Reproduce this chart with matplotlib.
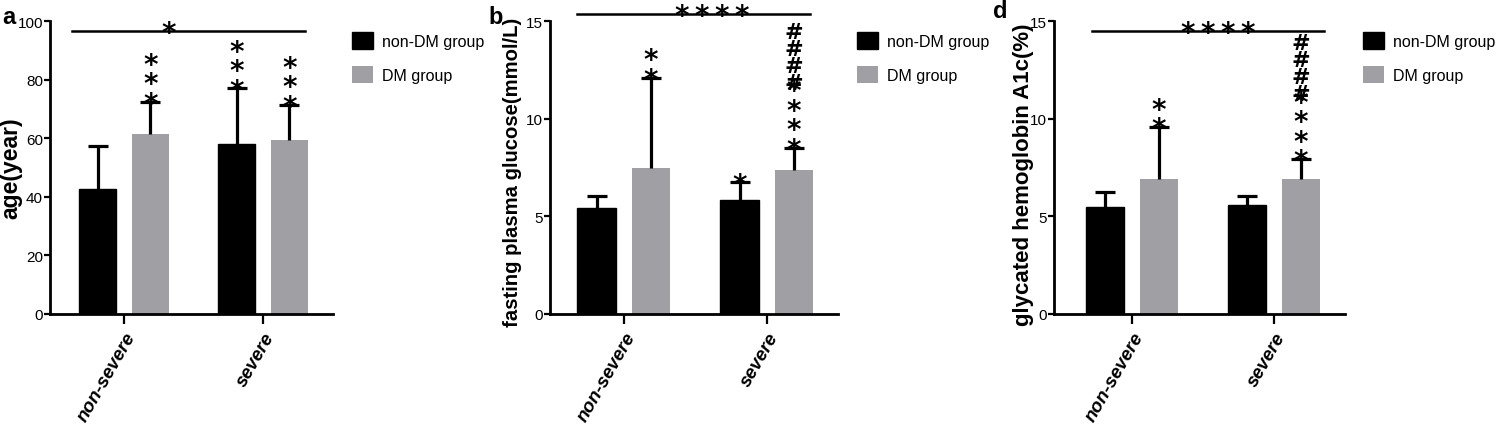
import matplotlib
matplotlib.use("Agg")
import matplotlib.pyplot as plt
import numpy as np
from matplotlib.textpath import TextPath
from matplotlib.font_manager import FontProperties

# ---------------- data ----------------
categories = ["non-severe", "severe"]
legend_labels = ["non-DM group", "DM group"]

age_nondm = [42.7, 58.0]
age_nondm_sd = [14.6, 19.0]
age_dm = [61.5, 59.4]
age_dm_sd = [11.0, 12.0]

fpg_nondm = [5.43, 5.84]
fpg_nondm_sd = [0.62, 0.90]
fpg_dm = [7.50, 7.37]
fpg_dm_sd = [4.60, 1.15]

hba1c_nondm = [5.47, 5.60]
hba1c_nondm_sd = [0.77, 0.45]
hba1c_dm = [6.90, 6.90]
hba1c_dm_sd = [2.67, 1.04]

# significance marks per bar: (nonDM list, DM list)
age_marks = (["", "***"], ["***", "***"])
fpg_marks = (["", "*"], ["**", "****####"])
hba1c_marks = (["", ""], ["**", "****####"])

ylabels = ["age(year)", "fasting plasma glucose(mmol/L)", "glycated hemoglobin A1c(%)"]
yticks_list = [[0, 20, 40, 60, 80, 100], [0, 5, 10, 15], [0, 5, 10, 15]]
panel_letters = ["a", "b", "d"]
overall_marks = ["*", "****", "****"]

# ---------------- style ----------------
W, H = 1499, 431
fig = plt.figure(figsize=(W / 100, H / 100), dpi=100)
BLACK = "#000000"
GRAY = "#a0a0a4"
SANS = ["Liberation Sans", "DejaVu Sans"]
STARFONT = ["DejaVu Sans"]

def px_axes(left, right, top, bottom):
    return [left / W, (H - bottom) / H, (right - left) / W, (bottom - top) / H]

axes_px = [(50, 333, 22, 315), (550, 838, 22, 315), (1054, 1345, 22, 315)]
xlims = [(-0.532, 1.504), (-0.517, 1.497), (-0.55, 1.50)]
sig_lines = [(-0.374, 1.30, 96.6, 0.324), (-0.33, 1.30, 15.36, 0.615), (-0.28, 1.35, 14.5, 0.60)]
ylabel_sizes = [16.5, 14.6, 16.0]
ylabel_coords = [((11 - 50) / 283, 0.50), ((512 - 550) / 288, 0.488), ((1024 - 1054) / 291, 0.478)]
legend_x = [352, 857, 1363]
letter_pos = [(9, 18), (496, 17), (1000, 11)]

def glyph(ax, ch, x, y, dx_pt, dy_pt, fs):
    fp = FontProperties(family=STARFONT, size=fs, weight="bold")
    ext = TextPath((0, 0), ch, size=fs, prop=fp).get_extents()
    cx = (ext.x0 + ext.x1) / 2
    cy = (ext.y0 + ext.y1) / 2
    ax.annotate(ch, xy=(x, y), xycoords="data", xytext=(dx_pt - cx, dy_pt - cy),
                textcoords="offset points", ha="left", va="baseline",
                fontsize=fs, family=STARFONT, fontweight="bold",
                annotation_clip=False, zorder=5)

PX = 72 / 100.0  # points per pixel

def stack_marks(ax, x, y, s):
    n_star = 0
    n_hash = 0
    for ch in s:
        if ch == "*":
            off = 4 + 19.5 * n_star
            glyph(ax, "*", x, y, 0, off * PX, 20)
            n_star += 1
        else:
            off = 4 + 19.5 * 3 + 4 + 17 * n_hash
            glyph(ax, "#", x, y, 0, off * PX, 16)
            n_hash += 1

datasets = [
    (age_nondm, age_nondm_sd, age_dm, age_dm_sd, age_marks),
    (fpg_nondm, fpg_nondm_sd, fpg_dm, fpg_dm_sd, fpg_marks),
    (hba1c_nondm, hba1c_nondm_sd, hba1c_dm, hba1c_dm_sd, hba1c_marks),
]

x = np.arange(len(categories))
off = 0.19
bw = 0.27

def upper_errorbar(ax, xs, vals, sds):
    _, caps, _ = ax.errorbar(xs, vals, yerr=[np.zeros(len(vals)), sds], fmt="none",
                             ecolor=BLACK, elinewidth=2.3, capsize=7, capthick=2.3, zorder=3)
    for cl in caps:
        if np.allclose(cl.get_ydata(), vals):
            cl.set_visible(False)

for i, (nd, nd_sd, dm, dm_sd, marks) in enumerate(datasets):
    ax = fig.add_axes(px_axes(*axes_px[i]))
    ax.bar(x - off, nd, bw, color=BLACK, edgecolor=BLACK, linewidth=1, label=legend_labels[0], zorder=2)
    ax.bar(x + off, dm, bw, color=GRAY, edgecolor="none", label=legend_labels[1], zorder=2)
    upper_errorbar(ax, x - off, nd, nd_sd)
    upper_errorbar(ax, x + off, dm, dm_sd)
    ticks = yticks_list[i]
    ax.set_ylim(0, ticks[-1])
    ax.set_yticks(ticks)
    ax.set_xlim(*xlims[i])
    ax.set_xticks(x)
    ax.set_xticklabels(categories, rotation=60, ha="right", rotation_mode="anchor",
                       fontsize=13.5, fontweight="bold", fontstyle="italic", family=SANS)
    for lab in ax.get_yticklabels():
        lab.set_family(SANS)
        lab.set_fontsize(11)
    for s in ["top", "right"]:
        ax.spines[s].set_visible(False)
    for s in ["left", "bottom"]:
        ax.spines[s].set_linewidth(2.0)
    ax.tick_params(axis="y", length=4, width=1.6, pad=1)
    ax.tick_params(axis="x", length=7, width=1.6, pad=4)
    ax.set_ylabel(ylabels[i], fontsize=ylabel_sizes[i], fontweight="bold", family=SANS)
    ax.yaxis.label.set_va("center")
    ax.yaxis.set_label_coords(*ylabel_coords[i])

    # significance marks above error bars
    for j in range(len(categories)):
        if marks[0][j]:
            stack_marks(ax, x[j] - off, nd[j] + nd_sd[j], marks[0][j])
        if marks[1][j]:
            stack_marks(ax, x[j] + off, dm[j] + dm_sd[j], marks[1][j])

    # overall comparison line
    x0, x1, ly, cxm = sig_lines[i]
    ax.plot([x0, x1], [ly, ly], color=BLACK, lw=1.8, clip_on=False, zorder=4)
    n = len(overall_marks[i])
    for k in range(n):
        dxp = (k - (n - 1) / 2) * 20
        glyph(ax, "*", cxm, ly, dxp * PX, 4 * PX, 20)

    # legend
    ax.legend(loc="upper left", bbox_to_anchor=(legend_x[i] / W, 1 - 33 / H),
              bbox_transform=fig.transFigure, frameon=False, borderpad=0,
              borderaxespad=0, handlelength=1.3, handleheight=1.25,
              handletextpad=0.6, labelspacing=1.1, prop=dict(family=SANS, size=11.5))

    lx, ly2 = letter_pos[i]
    fig.text(lx / W, 1 - ly2 / H, panel_letters[i], fontsize=17, fontweight="bold",
             family=SANS, ha="center", va="center")

fig.savefig("out.png", dpi=100)
